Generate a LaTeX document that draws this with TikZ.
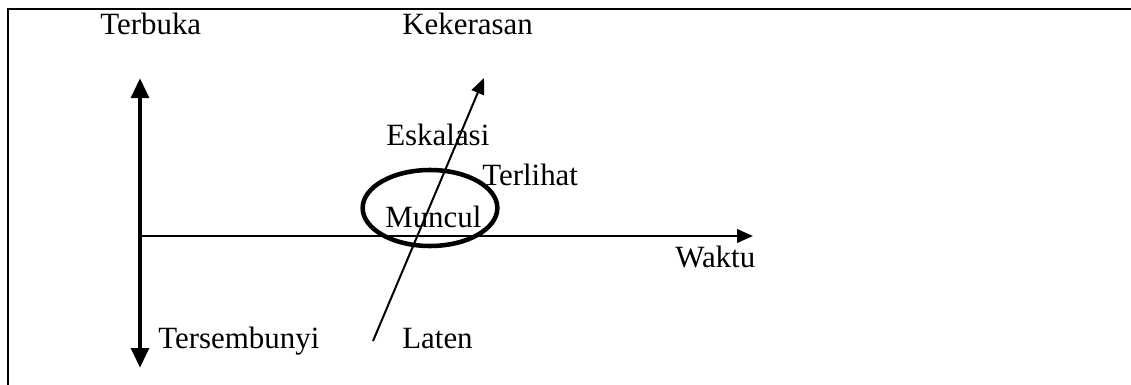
\documentclass[tikz,border=0pt]{standalone}
\usepackage{fontspec}
\setmainfont{Liberation Serif}
\usetikzlibrary{arrows.meta,shapes.geometric}
\begin{document}
\begin{tikzpicture}[x=0.75pt,y=-0.75pt,
  lbl/.style={anchor=base west,inner sep=0pt,font=\fontsize{23.2}{28}\selectfont},
  frameline/.style={line width=2.2pt},
  bigarrow/.style={line width=3.4pt,{Triangle[length=15pt,width=13pt]}-{Triangle[length=15pt,width=13pt]}},
  thinarrow/.style={line width=1.5pt,-{Triangle[length=12pt,width=10pt]}},
  timeline/.style={-{Triangle[length=12pt,width=10pt]}},
  ring/.style={draw,ellipse,line width=3.4pt,minimum width=101pt,minimum height=57pt,inner sep=0pt}]
\useasboundingbox (0,0) rectangle (1131,385);
% frame
\coordinate (fTL) at (8,9);
\coordinate (fTR) at (1131,9);
\coordinate (fBL) at (8,385);
\draw[frameline] (fBL) -- (fTL) -- (fTR);
% vertical double arrow
\coordinate (vTop) at (140,78);
\coordinate (vBot) at (140,368);
\draw[bigarrow] (vBot) -- (vTop);
% horizontal time axis
\coordinate (hL) at (140,236);
\coordinate (hM) at (430,236);
\coordinate (hR) at (753,236);
\draw[line width=1.1pt] (hL) -- (hM);
\draw[line width=2pt,timeline] (hM) -- (hR);
% ellipse
\node[ring] (ell) at (430,208) {};
% diagonal arrow
\coordinate (dS) at (373,341);
\coordinate (dE) at (484,78);
\draw[thinarrow] (dS) -- (dE);
% labels
\node[lbl] (terbuka) at (100,35) {Terbuka};
\node[lbl] (kekerasan) at (402,35) {Kekerasan};
\node[lbl] (eskalasi) at (386,145) {Eskalasi};
\node[lbl] (terlihat) at (482,185) {Terlihat};
\node[lbl] (muncul) at (385,227) {Muncul};
\node[lbl] (waktu) at (675,267) {Waktu};
\node[lbl] (tersembunyi) at (158,348) {Tersembunyi};
\node[lbl] (laten) at (402,348) {Laten};
\end{tikzpicture}
\end{document}
